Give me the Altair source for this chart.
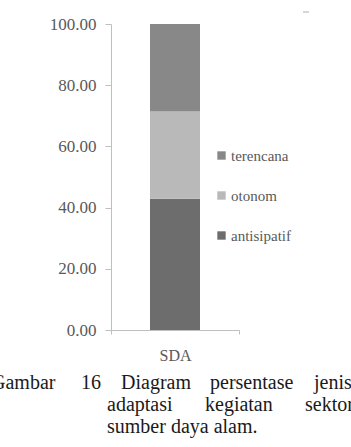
import altair as alt
import pandas as pd

# ---- data ----
CATEGORY = ["SDA"]
SERIES = ["antisipatif", "otonom", "terencana"]
VALUES = [42.86, 28.57, 28.57]
LEGEND_ORDER = ["terencana", "otonom", "antisipatif"]
COLORS = ["#888888", "#b9b9b9", "#6d6d6d"]  # matching LEGEND_ORDER
Y_TICKS = [0, 20, 40, 60, 80, 100]

CAPTION_WORDS = [
    ["Gambar", "16", "Diagram", "persentase", "jenis"],
    ["adaptasi", "kegiatan", "sektor"],
    ["sumber daya alam."],
]

# ---- layout (pixels, page coordinates) ----
PLOT_LEFT, PLOT_TOP = 111, 24
PLOT_W, PLOT_H = 128, 306
CAPTION_X = [[-9, 81, 121, 210, 314], [107, 205, 305], [107]]
CAPTION_BASELINE = [389, 411, 433]

FONT = "Liberation Serif, Times New Roman, serif"
AXIS_GRAY = "#bfbfbf"
LABEL_GRAY = "#595959"

bars = pd.DataFrame({
    "kategori": CATEGORY * len(SERIES),
    "jenis": SERIES,
    "nilai": VALUES,
    "urut": list(range(len(SERIES))),
})

cap_rows = []
for li, words in enumerate(CAPTION_WORDS):
    for wi, w in enumerate(words):
        cap_rows.append({
            "kata": w,
            "px": CAPTION_X[li][wi] - PLOT_LEFT,
            "py": CAPTION_BASELINE[li] - PLOT_TOP,
        })
caption = pd.DataFrame(cap_rows)

bar = alt.Chart(bars).mark_bar(size=50).encode(
    x=alt.X("kategori:N",
            scale=alt.Scale(paddingInner=0, paddingOuter=0),
            axis=alt.Axis(title=None, labelAngle=0, tickBand="extent",
                          tickSize=4, labelPadding=13, labelFontSize=16,
                          labelColor=LABEL_GRAY, labelFont=FONT,
                          domainColor=AXIS_GRAY, tickColor=AXIS_GRAY)),
    y=alt.Y("nilai:Q", stack="zero",
            scale=alt.Scale(domain=[0, 100], nice=False),
            axis=alt.Axis(title=None, values=Y_TICKS, format=".2f",
                          grid=False, tickSize=6, labelPadding=9,
                          labelFontSize=17, labelColor=LABEL_GRAY,
                          labelFont=FONT, domainColor=AXIS_GRAY,
                          tickColor=AXIS_GRAY)),
    color=alt.Color("jenis:N",
                    scale=alt.Scale(domain=LEGEND_ORDER, range=COLORS),
                    legend=alt.Legend(title=None, orient="none",
                                      legendX=103, legendY=124,
                                      symbolType="square", symbolSize=70,
                                      symbolStrokeWidth=0,
                                      labelFontSize=15, labelFont=FONT,
                                      labelColor=LABEL_GRAY, labelOffset=2,
                                      rowPadding=24, padding=0)),
    order=alt.Order("urut:Q"),
)

cap = alt.Chart(caption).mark_text(
    align="left", baseline="alphabetic", font=FONT, fontSize=20,
    color="#1a1a1a"
).encode(
    x=alt.X("px:Q", scale=None),
    y=alt.Y("py:Q", scale=None),
    text="kata:N",
)

dash = alt.Chart(pd.DataFrame({"a": [0]})).mark_rule(
    color="#c8c8c8", strokeWidth=1.5
).encode(
    x=alt.value(303 - PLOT_LEFT), x2=alt.value(309 - PLOT_LEFT),
    y=alt.value(12 - PLOT_TOP),
)

chart = alt.layer(bar, cap, dash).properties(
    width=PLOT_W, height=PLOT_H,
    autosize=alt.AutoSizeParams(type="none"),
    padding={"left": PLOT_LEFT, "top": PLOT_TOP,
             "right": 351 - PLOT_LEFT - PLOT_W,
             "bottom": 447 - PLOT_TOP - PLOT_H},
    background="white",
).configure_view(stroke=None)

chart.save("out.html", embed_options={"renderer": "svg", "actions": False})
